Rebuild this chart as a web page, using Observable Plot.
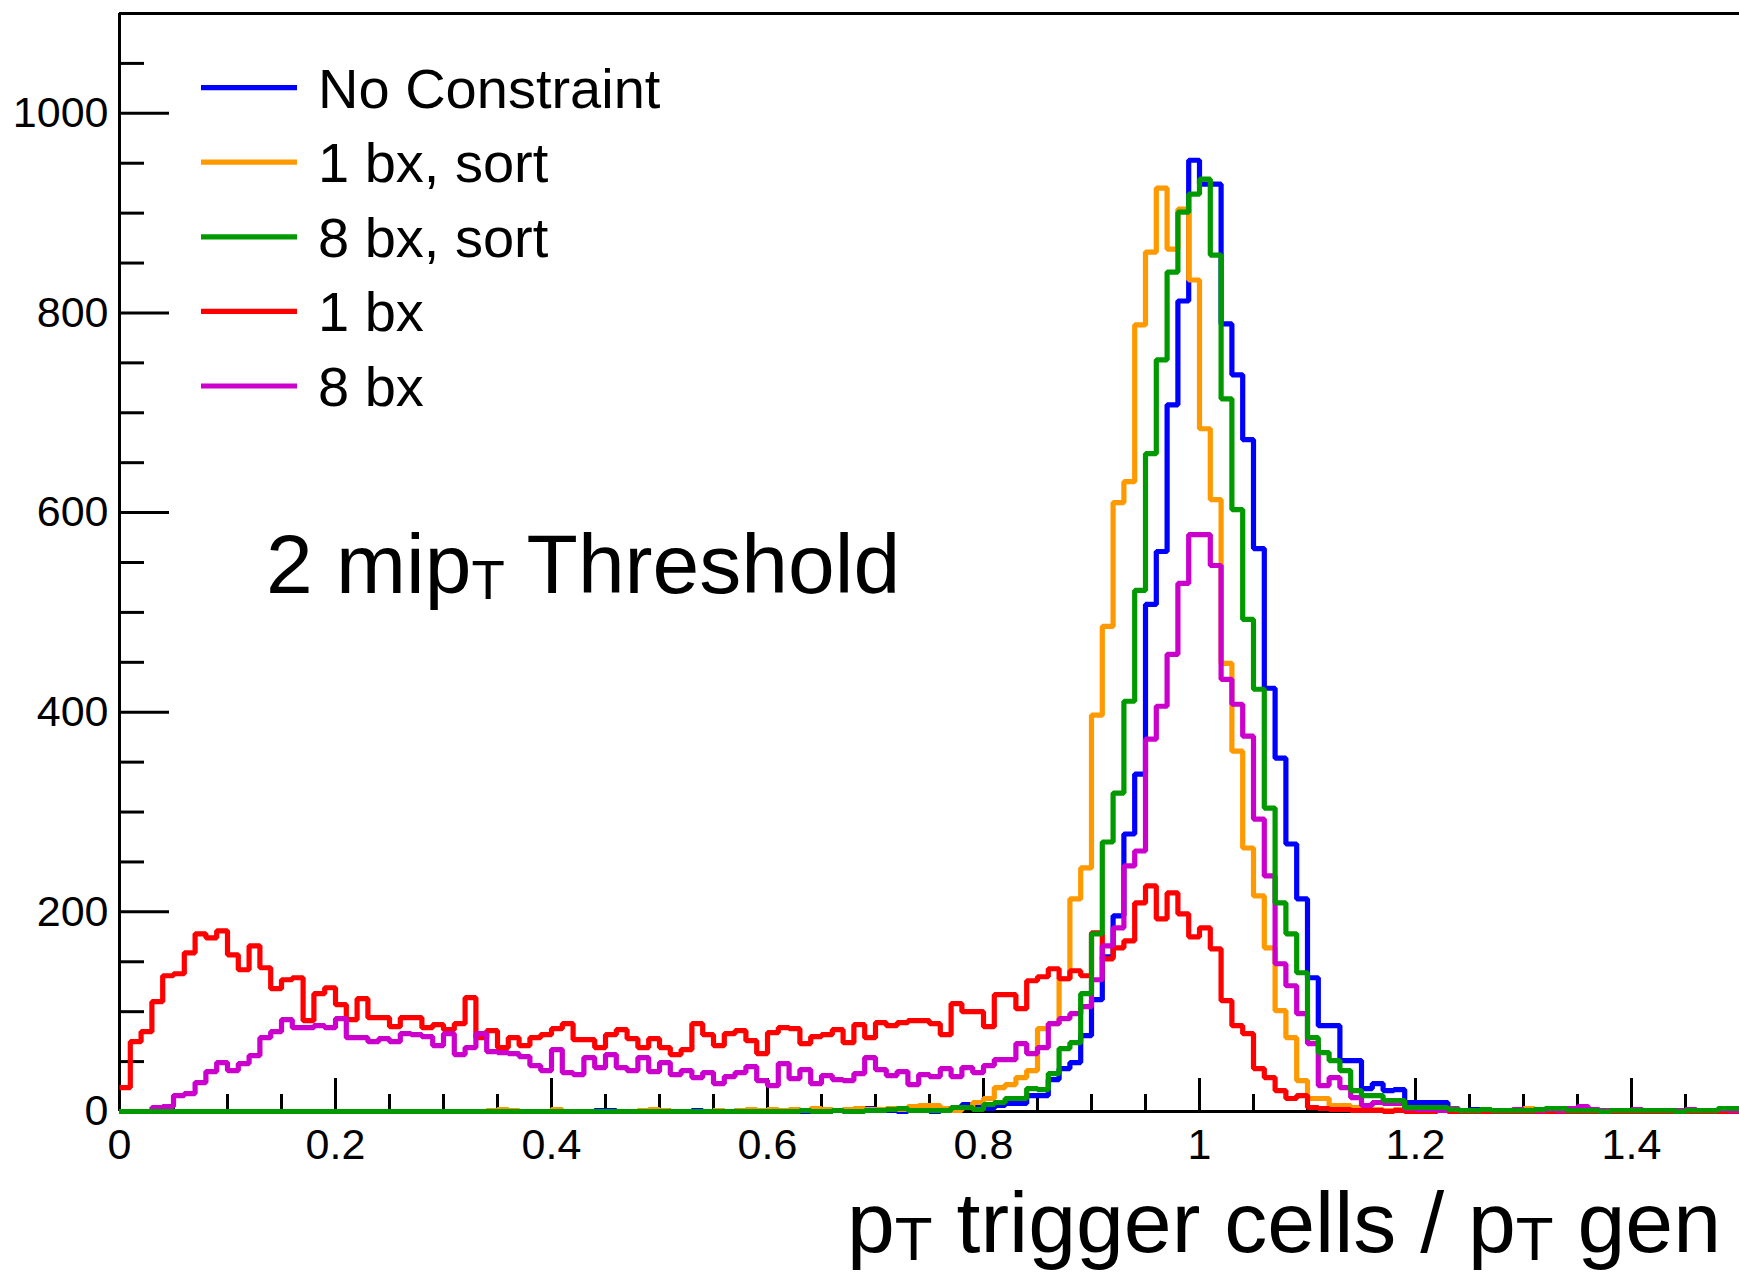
<!DOCTYPE html>
<html>
<head>
<meta charset="utf-8">
<script src="https://cdn.jsdelivr.net/npm/d3@7"></script>
<script src="https://cdn.jsdelivr.net/npm/@observablehq/plot@0.6"></script>
<style>
html, body { margin: 0; padding: 0; background: #fff; }
#chart { position: relative; width: 1739px; height: 1275px; overflow: hidden; }
</style>
</head>
<body>
<div id="chart"></div>
<script>
// ---------------- data ----------------
const binLow = 0;
const binWidth = 0.01;
const xMax = 1.5;

const seriesNames = ["No Constraint", "1 bx, sort", "8 bx, sort", "1 bx", "8 bx"];
const seriesColors = ["#0000ff", "#ff9900", "#009900", "#ff0000", "#cc00cc"];

const noConstraint = [
  0,0,0,0,0,0,0,0,0,0, 0,0,0,0,0,0,0,0,0,0, 0,0,0,0,0,0,0,0,0,0, 0,0,0,0,0,0,0,0,0,0,
  0,0,0,0,1,1,0,0,0,0, 1,0,0,1,0,0,0,1,0,0, 0,1,0,0,1,0,1,0,1,3, 1,1,0,1,1,0,2,2,7,4,
  3,6,8,8,16,16,32,43,49,76, 112,155,196,278,338,508,561,708,812,953,
  929,929,789,738,673,564,424,354,268,213, 134,86,86,51,51,23,28,21,22,9,
  9,9,9,2,1,2,1,1,1,0, 1,1,0,1,1,0,1,0,1,1, 0,1,0,1,0,1,1,0,1,0
];
const oneBxSort = [
  0,0,0,0,0,0,0,0,0,0, 0,0,0,0,0,0,0,0,0,0, 0,0,0,0,0,0,0,0,0,0, 0,0,0,0,1,2,1,0,0,0,
  2,0,0,0,0,0,0,0,1,2, 1,0,0,0,0,1,0,1,2,1, 2,1,2,1,3,2,1,2,3,2, 2,3,2,5,6,6,3,1,4,9,
  13,24,27,34,41,83,88,133,213,244, 397,486,610,631,788,861,925,864,904,833,
  684,613,449,361,264,216,164,101,74,31, 13,13,6,6,4,3,2,1,2,1,
  1,0,1,1,0,1,1,0,1,2, 3,1,1,0,1,1,0,1,0,1, 1,0,1,0,1,1,0,1,0,1
];
const eightBxSort = [
  0,0,0,0,0,0,0,0,0,0, 0,0,0,0,0,0,0,0,0,0, 0,0,0,0,0,0,0,0,0,0, 0,0,0,0,0,0,0,0,0,0,
  0,0,0,0,0,0,0,0,0,0, 0,0,0,0,0,0,0,0,0,0, 0,0,0,1,0,0,1,0,0,1, 1,2,3,1,1,1,1,4,4,2,
  7,9,13,13,23,22,38,63,69,118, 178,270,319,411,522,659,753,841,901,919,
  934,858,714,603,493,423,304,209,178,139, 74,59,51,41,21,16,16,11,11,4,
  4,4,4,2,1,1,2,1,1,1, 1,2,3,3,1,1,1,0,1,1, 1,1,1,1,0,1,1,1,3,3
];
const oneBx = [
  24,70,80,110,136,138,159,178,174,181, 157,142,166,144,123,132,134,91,118,124,
  107,92,113,94,94,85,94,94,84,87, 82,88,114,74,81,64,74,66,74,77,
  83,88,72,72,64,77,82,73,64,73, 64,57,62,88,77,66,78,81,71,58,
  79,84,83,68,75,77,82,69,87,74, 89,86,89,91,91,88,77,108,100,100,
  85,117,117,103,131,135,143,133,141,136, 179,153,164,171,209,226,193,219,198,175,
  184,163,111,86,78,43,34,21,13,16, 4,3,2,2,1,1,1,0,1,0,
  0,0,1,0,0,0,0,0,0,0, 0,0,0,0,0,0,0,0,0,0, 0,0,0,0,0,0,0,0,0,0
];
const eightBx = [
  0,0,0,4,5,16,18,29,40,49, 41,48,56,74,80,92,84,84,86,84,
  93,74,74,70,73,70,78,77,75,66, 78,57,64,78,60,59,58,55,46,41,
  62,39,37,54,44,57,44,41,54,40, 49,37,41,34,39,28,35,39,45,31,
  26,48,33,42,28,36,32,31,38,54, 42,36,40,27,37,35,43,35,44,39,
  46,52,52,68,58,64,88,93,98,105, 132,166,184,246,261,373,406,458,529,578,
  578,547,433,408,376,293,236,148,126,98, 68,26,34,24,14,6,9,8,8,3,
  2,2,1,3,1,1,2,1,1,2, 1,1,2,1,3,5,2,1,1,1, 2,1,1,1,1,2,1,1,2,1
];

const seriesValues = [noConstraint, oneBxSort, eightBxSort, oneBx, eightBx];
const drawOrder = [0, 1, 3, 4, 2];

const xMajor = [0, 0.2, 0.4, 0.6, 0.8, 1, 1.2, 1.4];
const xMinor = [0.05, 0.1, 0.15, 0.25, 0.3, 0.35, 0.45, 0.5, 0.55, 0.65, 0.7, 0.75,
                0.85, 0.9, 0.95, 1.05, 1.1, 1.15, 1.25, 1.3, 1.35, 1.45];
const yMajor = [0, 200, 400, 600, 800, 1000];
const yMinor = [50, 100, 150, 250, 300, 350, 450, 500, 550, 650, 700, 750, 850, 900, 950, 1050];

const xTitle = [["p", false], ["T", true], [" trigger cells / p", false], ["T", true], [" gen", false]];
const annotation = [["2 mip", false], ["T", true], [" Threshold", false]];

// ---------------- layout ----------------
const FONT = "'Liberation Sans', Arial, Helvetica, sans-serif";
const W = 1739, H = 1275;
const mL = 119, mT = 13, mR = 0, mB = 164;
const frameW = W - mL - mR, frameH = H - mT - mB;
const LW = 5.2;

function histPoints(values, name) {
  const pts = values.map((v, i) => ({x: binLow + i * binWidth, y: v, s: name}));
  pts.push({x: xMax, y: values[values.length - 1], s: name});
  return pts;
}

const lineMarks = drawOrder.map(k =>
  Plot.line(histPoints(seriesValues[k], seriesNames[k]), {
    x: "x", y: "y", curve: "step-after",
    stroke: seriesColors[k], strokeWidth: LW, strokeLinejoin: "miter", strokeLinecap: "butt"
  })
);

const chart = Plot.plot({
  width: W, height: H,
  marginLeft: mL, marginTop: mT, marginRight: mR, marginBottom: mB,
  x: {domain: [0, xMax]},
  y: {domain: [0, 1100]},
  style: {fontFamily: FONT, fontSize: "42px", background: "#fff", color: "#000", overflow: "visible"},
  marks: [
    Plot.ruleY([1100], {stroke: "#000", strokeWidth: 3}),
    Plot.ruleX([0], {stroke: "#000", strokeWidth: 3}),
    Plot.ruleY([0], {stroke: "#000", strokeWidth: 3}),
    Plot.tickY(yMinor, {y: d => d, insetRight: frameW - 25, stroke: "#000", strokeWidth: 3}),
    Plot.tickY(yMajor, {y: d => d, insetRight: frameW - 50, stroke: "#000", strokeWidth: 3}),
    Plot.tickX(xMinor, {x: d => d, insetTop: frameH - 17, stroke: "#000", strokeWidth: 3}),
    Plot.tickX(xMajor, {x: d => d, insetTop: frameH - 33, stroke: "#000", strokeWidth: 3}),
    Plot.axisY({ticks: yMajor, tickSize: 0, tickPadding: 11, fontSize: 43, tickFormat: d => String(d), label: null}),
    Plot.axisX({ticks: xMajor, tickSize: 0, tickPadding: 17, fontSize: 43, tickFormat: d => String(+d.toFixed(1)), label: null}),
    ...lineMarks
  ]
});

document.getElementById("chart").appendChild(chart);

// ---------------- legend & texts ----------------
const svg = d3.select(chart);
const legend = svg.append("g")
  .attr("font-family", FONT).attr("font-size", 56).attr("fill", "#000")
  .attr("text-anchor", "start");
seriesNames.forEach((name, i) => {
  const yy = 87.6 + i * 74.6;
  legend.append("line")
    .attr("x1", 201).attr("x2", 297).attr("y1", yy).attr("y2", yy)
    .attr("stroke", seriesColors[i]).attr("stroke-width", LW);
  legend.append("text").attr("x", 318).attr("y", yy + 20).attr("text-anchor", "start")
    .attr("textLength", null).text(name);
});

function richText(parent, parts, x, y, size, subScale, subShift, anchor) {
  const t = parent.append("text")
    .attr("x", x).attr("y", y)
    .attr("font-family", FONT).attr("font-size", size)
    .attr("text-anchor", anchor).attr("fill", "#000")
    .attr("xml:space", "preserve").style("white-space", "pre");
  let shifted = false;
  parts.forEach(([str, sub]) => {
    const ts = t.append("tspan").text(str);
    if (sub) {
      ts.attr("font-size", size * subScale).attr("dy", shifted ? 0 : subShift);
      shifted = true;
    } else {
      ts.attr("font-size", size).attr("dy", shifted ? -subShift : 0);
      shifted = false;
    }
  });
  return t;
}

richText(svg, annotation, 266, 593, 84, 0.65, 6, "start");
richText(svg, xTitle, 1721, 1252, 86, 0.72, 8, "end");
</script>
</body>
</html>
